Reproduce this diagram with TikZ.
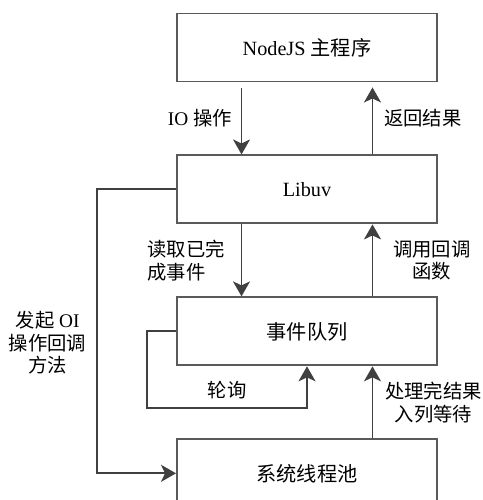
\documentclass[tikz,border=0pt]{standalone}
\usepackage{fontspec}
\setmainfont{Liberation Serif}
\newfontfamily\cjk{Noto Sans CJK SC}
\usepackage{xcolor}
\definecolor{cLine}{HTML}{5A5A5A}
\definecolor{cArrow}{HTML}{404040}
\usepackage{tikz}
\usetikzlibrary{positioning,arrows.meta,calc}
\tikzset{
  node-box/.style={draw=cLine,line width=1.1pt,minimum width=52mm,
    minimum height=13.6mm,align=center,inner sep=0pt,
    font=\fontsize{11.5}{13}\selectfont},
  % 连线与箭头：深灰，实心尖头
  arrow/.style={-{Stealth[length=3mm,width=3.4mm,inset=0.8mm]},
    line width=1.1pt,draw=cArrow},
  lbl/.style={align=center,inner sep=1pt,font=\fontsize{11}{13}\selectfont},
}

\begin{document}
\begin{tikzpicture}[x=0.2mm,y=-0.2mm,node distance=14.4mm]
  \useasboundingbox (0,0) rectangle (483,500);
  \node[node-box]                (main)  at (307,47.5) {NodeJS {\cjk 主程序}};
  \node[node-box,below=of main]  (libuv) {Libuv};
  \node[node-box,below=of libuv] (queue) {\cjk 事件队列};
  \node[node-box,below=of queue] (pool)  {\cjk 系统线程池};
  \draw[arrow,shorten <=1.2mm] ($(main.south west)!0.25!(main.south east)$)
    -- node[lbl,left=1.4mm] (lbl-io) {IO {\cjk 操作}}
    ($(libuv.north west)!0.25!(libuv.north east)$);
  \draw[arrow,shorten >=1mm] ($(libuv.north west)!0.75!(libuv.north east)$)
    -- node[lbl,right=1.8mm] (lbl-ret) {\cjk 返回结果}
    ($(main.south west)!0.75!(main.south east)$);
  \draw[arrow] ($(libuv.south west)!0.25!(libuv.south east)$)
    -- node[lbl,left=2.8mm,align=left] (lbl-read) {\cjk 读取已完\\\cjk 成事件}
    ($(queue.north west)!0.25!(queue.north east)$);
  \draw[arrow] ($(queue.north west)!0.75!(queue.north east)$)
    -- node[lbl,right=3.6mm] (lbl-cb) {\cjk 调用回调\\\cjk 函数}
    ($(libuv.south west)!0.75!(libuv.south east)$);
  \draw[arrow] ($(pool.north west)!0.75!(pool.north east)$)
    -- node[lbl,right=2mm] (lbl-done) {\cjk 处理完结果\\\cjk 入列等待}
    ($(queue.south west)!0.75!(queue.south east)$);
  \draw[arrow] (libuv.west) -- ++(-79,0)
    |- node[lbl,pos=0.27,left=1.6mm] (lbl-io-cb) {{\cjk 发起} OI\\\cjk 操作回调\\\cjk 方法}
    (pool.west);
  \draw[arrow] (queue.west) -- ++(-29,0)
    |- node[lbl,pos=0.75,above=1.4mm] (lbl-poll) {\cjk 轮询}
    ($(queue.south)+(0,42)$) -- (queue.south);
\end{tikzpicture}
\end{document}
